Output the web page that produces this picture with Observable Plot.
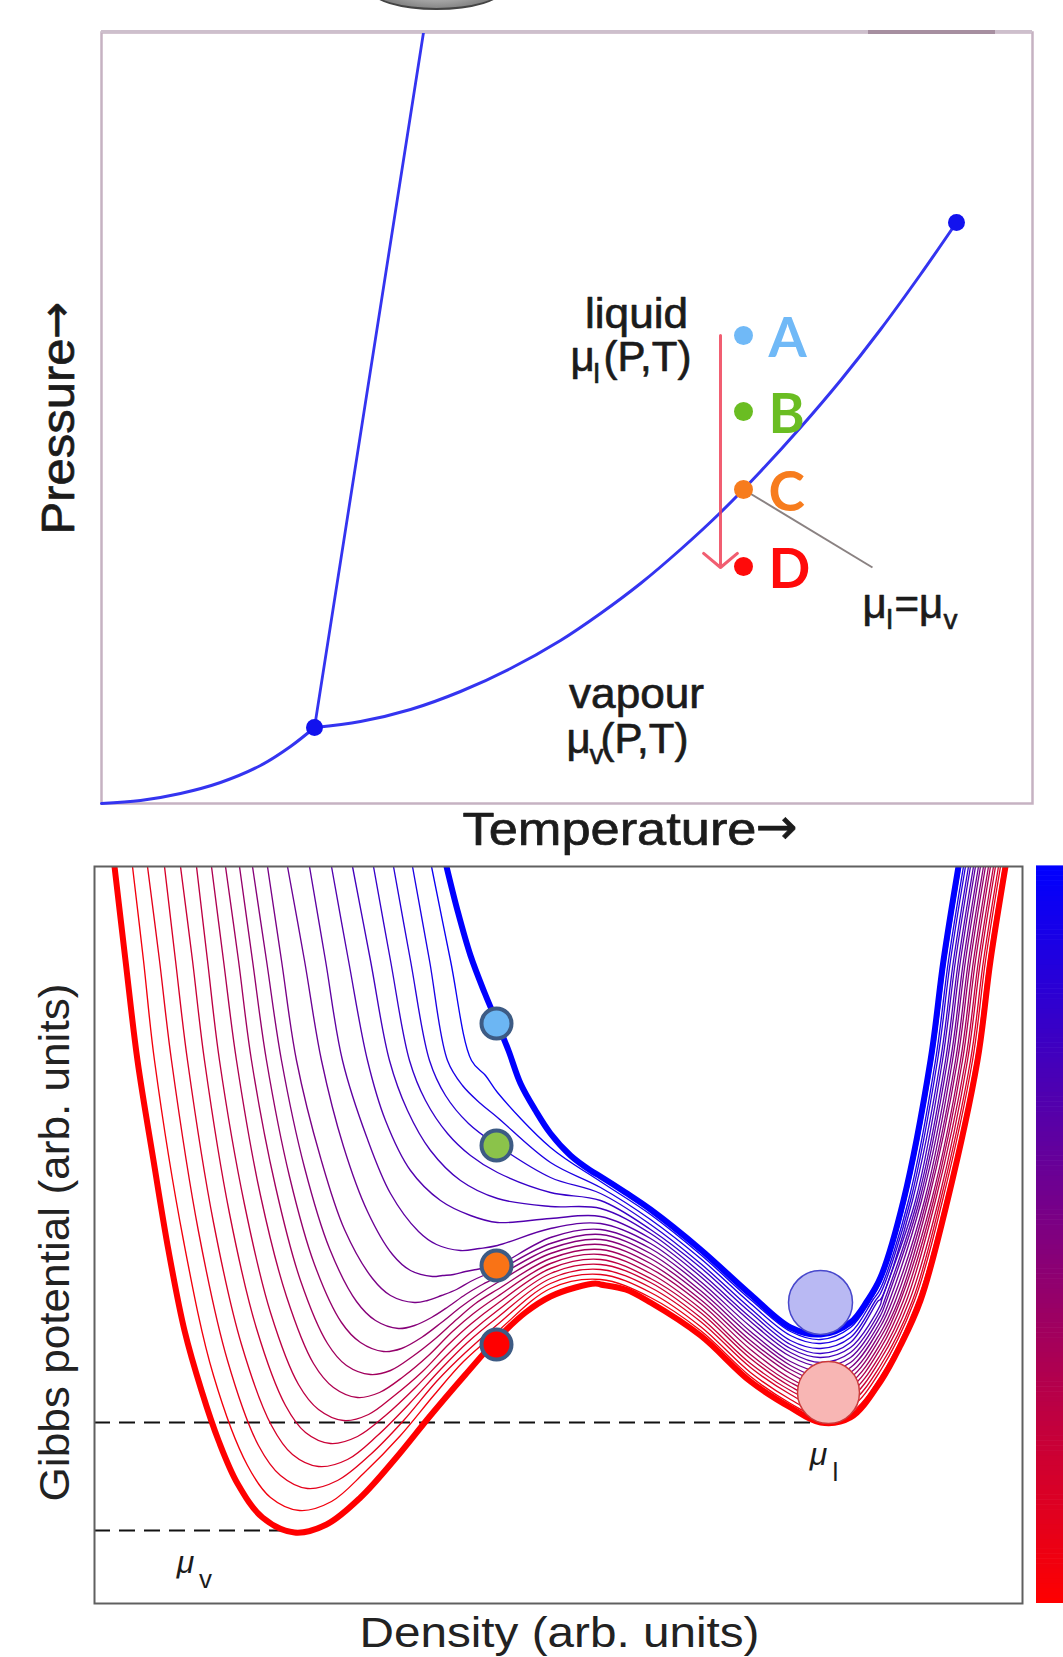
<!DOCTYPE html>
<html><head><meta charset="utf-8">
<script src="https://cdn.jsdelivr.net/npm/d3@7"></script>
<script src="https://cdn.jsdelivr.net/npm/@observablehq/plot@0.6"></script>
<style>
body{margin:0;background:#fff;}
#page{position:relative;width:1063px;height:1657px;overflow:hidden;background:#fff;font-family:"Liberation Sans",Arial,sans-serif;}
#top{position:absolute;left:0;top:0;}
#bottom{position:absolute;left:0;top:858px;}
#cap{position:absolute;left:370px;top:-31px;width:129px;height:37px;border-radius:50%;background:radial-gradient(ellipse at 50% 25%,#e6e6e6 0%,#a0a0a0 55%,#5a5a5a 100%);border:2px solid #444;}
#band{position:absolute;left:101px;top:30px;width:931px;height:3px;background:#cdbfcc;}
#band2{position:absolute;left:868px;top:30px;width:127px;height:4px;background:#a68fa0;}
</style></head>
<body><div id="page"><div id="top"></div><div id="bottom"></div><div id="cap"></div><div id="band"></div><div id="band2"></div></div>
<script>
// ================= TOP PANEL: P–T phase diagram (arb. units) =================
const sublimationT = [1, 40, 80, 120, 160, 190, 214];
const sublimationP = [97, 100, 107, 118, 135, 154, 173];
const vaporisationT = [214, 260, 310, 360, 410, 460, 500, 540, 580, 620, 660, 700, 740, 780, 820, 856];
const vaporisationP = [173, 179, 191, 209, 232, 260, 287, 317, 351, 388, 429, 473, 520, 571, 626, 678];
const meltingT = [214, 323];
const meltingP = [173, 868];
const specialT = [214, 856];   // triple point, critical point
const specialP = [173, 678];
const stateNames = ["A", "B", "C", "D"];
const stateT = [643, 643, 643, 643];
const stateP = [565, 489, 411, 334];
const statePalette = ["#70b9f7", "#6abd22", "#f77c1d", "#ff0a0a"];

// ================= BOTTOM PANEL: Gibbs potential vs density =================
const curveIds = [0,1,2,3,4,5,6,7,8,9,10,11,12,13,14,15,16,17,18,19]; // 0 = lowest pressure (D), 19 = highest (A)
// left (vapour-side) branches: [density, gibbs] pairs read per curve
const vapourSideBranches = [
  [[14,834],[25,740],[37,640],[53,540],[68,450],[84,370],[101,310],[118,260],[137,217],[162,183],[194,168],[226,176],[260,203],[295,242],[330,285],[365,326],[425,388],[475,413],[495,417],[525,411],[800,355]],
  [[32,834],[43,740],[54,640],[83,460],[113,325],[147,235],[170,203],[199,190],[231,199],[264,228],[300,265],[334,306],[363,339]],
  [[47,834],[59,740],[71,640],[98,469],[127,340],[158,255],[180,225],[207,212],[237,220],[270,246],[304,281],[336,319],[365,348]],
  [[64,834],[75,740],[87,640],[113,478],[141,356],[171,275],[192,246],[218,234],[247,241],[277,265],[309,297],[340,331],[367,358]],
  [[80,834],[92,740],[104,640],[129,487],[156,372],[185,295],[205,268],[230,257],[257,264],[285,285],[315,313],[344,343],[369,367]],
  [[96,834],[107,740],[119,640],[144,496],[170,388],[198,316],[218,291],[243,280],[268,286],[294,305],[322,329],[348,356],[371,377]],
  [[111,834],[123,740],[136,640],[160,505],[186,404],[213,337],[233,313],[257,303],[279,308],[303,324],[328,345],[352,369],[373,387]],
  [[125,834],[138,740],[151,640],[175,514],[200,420],[227,357],[246,335],[270,326],[290,330],[312,344],[335,362],[356,381],[375,397]],
  [[139,834],[152,740],[166,640],[189,524],[214,436],[241,378],[260,358],[283,349],[301,352],[321,363],[341,378],[361,394],[378,406]],
  [[152,834],[166,740],[181,640],[204,533],[229,452],[256,399],[275,380],[298,372],[314,375],[331,383],[348,394],[365,406],[380,415]],
  [[167,834],[181,740],[196,640],[220,543],[244,471],[272,422],[290,405],[314,398],[327,400],[341,405],[356,411],[370,419],[383,425]],
  [[187,834],[204,740],[221,640],[243,554],[267,489],[292,446],[310,430],[332,424],[342,425],[353,426],[365,429],[376,431],[386,433]],
  [[209,834],[225,740],[242,640],[266,564],[290,507],[318,469],[336,456],[360,450],[379,452]],
  [[231,834],[248,740],[267,640],[285,580],[310,530],[340,500],[370,485]],
  [[252,834],[270,740],[289,640],[307,590],[330,550],[360,520]],
  [[273,834],[290,740],[309,640],[325,600],[347,567],[370,545]],
  [[293,834],[310,740],[329,640],[345,605],[368,577]],
  [[312,834],[329,740],[347,640],[362,615],[380,597]],
  [[331,834],[350,740],[371,640],[385,625]],
  [[346,834],[357,790],[370,745],[384,708],[408,650],[420,617],[435,590],[470,545],[490,530],[525,508]]
];
// Gibbs value of every curve (index = curve id) at fixed densities
const densityColumns = [397, 450, 500, 550, 600, 650, 690, 720, 750, 780];
const gibbsAt397 = [362,369,376,383,390,397,404,411,418,424,430,435,455,478,502,528,555,583,608,677];
const gibbsAt450 = [404,412,417,422,427,432,437,442,447,452,457,463,472,482,494,508,523,538,553,567];
const gibbsAt500 = [416,421,426,431,436,441,446,451,456,461,466,471,477,484,492,500,507,513,519,524];
const gibbsAt550 = [398,403,408,413,418,422,427,432,437,442,447,452,457,462,467,471,476,481,486,491];
const gibbsAt600 = [365,370,374,379,383,388,392,397,401,406,410,415,419,424,428,433,437,442,446,451];
const gibbsAt650 = [319,324,328,333,337,342,346,351,356,360,365,369,374,379,383,388,392,397,401,406];
const gibbsAt690 = [293,297,301,306,310,314,318,322,327,331,335,339,344,348,352,356,360,365,369,373];
const gibbsAt720 = [278,283,287,292,297,301,306,310,315,320,324,329,334,338,343,347,352,357,361,366];
const gibbsAt750 = [283,288,293,298,303,308,313,318,323,328,333,338,343,348,353,358,363,368,373,378];
const gibbsAt780 = [319,324,330,335,341,346,352,357,363,368,374,379,385,390,396,401,407,412,418,423];
// Density of every curve on the liquid-side wall at fixed Gibbs values
const gibbsRows = [400, 500, 640, 740, 834];
const densityAt400 = [820,817,814,812,809,806,803,800,798,795,792,789,786,784,781,778,775,772,770,767];
const densityAt500 = [847,845,842,840,838,835,833,831,828,826,824,821,819,817,815,812,810,808,805,803];
const densityAt640 = [877,875,872,870,867,865,862,860,857,855,852,850,847,845,842,840,837,835,832,830];
const densityAt740 = [890,888,885,883,880,878,875,873,870,868,865,863,860,858,855,853,850,848,845,843];
const densityAt834 = [905,903,900,898,895,893,890,888,885,883,880,878,875,873,870,868,865,863,860,858];

const muLevelGibbs = [278, 170];     // mu_l, mu_v
const muLevelDensity = [724, 185];   // where each dashed level meets its minimum
const ballDensity = [720, 728];      // liquid-well balls (high P, low P)
const ballGibbs = [398, 308];
const stateDensity = [396, 396, 396, 396];
const stateGibbs = [677, 555, 435, 356];
const statePaletteBottom = ["#6cb6f3", "#8bc34a", "#f97316", "#ff0000"];

// ---------- build tables ----------
const gibbsCols = [gibbsAt397, gibbsAt450, gibbsAt500, gibbsAt550, gibbsAt600, gibbsAt650, gibbsAt690, gibbsAt720, gibbsAt750, gibbsAt780];
const densityRows = [densityAt400, densityAt500, densityAt640, densityAt740, densityAt834];
const curveRows = [];
curveIds.forEach(i => {
  const pts = vapourSideBranches[i].map(p => p.slice());
  densityColumns.forEach((d, k) => pts.push([d, gibbsCols[k][i]]));
  gibbsRows.forEach((g, k) => pts.push([densityRows[k][i], g]));
  pts.sort((a, b) => a[0] - b[0]);
  pts.forEach(([d, g]) => curveRows.push({id: i, level: i, d, g}));
});
const thin = curveRows.filter(r => r.id !== 0 && r.id !== 19);
const thickRed = curveRows.filter(r => r.id === 0);
const thickBlue = curveRows.filter(r => r.id === 19);

const toXY = (xs, ys) => xs.map((x, k) => ({x, y: ys[k]}));
const FONT = "Liberation Sans, Arial, DejaVu Sans, sans-serif";
const label = (x, y, s, o = {}) => Plot.text([{x, y, s}], {x: "x", y: "y", text: "s", fontFamily: FONT, fill: "#1b1b1b", ...o});
const bold = {stroke: "#1b1b1b", strokeWidth: 0.7};
const ARROW = {fontFamily: "DejaVu Sans, sans-serif"};

// ================= TOP CHART =================
const topChart = Plot.plot({
  width: 1063, height: 858,
  marginLeft: 101, marginRight: 31, marginTop: 32, marginBottom: 55,
  x: {domain: [1, 932], axis: null},
  y: {domain: [97, 868], axis: null},
  style: {background: "transparent", overflow: "visible"},
  marks: [
    Plot.frame({stroke: "#c6b2c2", strokeWidth: 2.5}),
    Plot.line(toXY(sublimationT, sublimationP), {x: "x", y: "y", stroke: "#3434f0", strokeWidth: 3, curve: "catmull-rom"}),
    Plot.line(toXY(vaporisationT, vaporisationP), {x: "x", y: "y", stroke: "#3434f0", strokeWidth: 3, curve: "catmull-rom"}),
    Plot.line(toXY(meltingT, meltingP), {x: "x", y: "y", stroke: "#3434f0", strokeWidth: 2.8}),
    Plot.dot(toXY(specialT, specialP), {x: "x", y: "y", r: 8.5, fill: "#1212ee", stroke: "none"}),
    Plot.arrow([{x1: 620, y1: 565, x2: 620, y2: 333}], {x1: "x1", y1: "y1", x2: "x2", y2: "y2", stroke: "#ef4258", strokeOpacity: 0.85, strokeWidth: 3, headAngle: 100, headLength: 11}),
    Plot.link([{x1: 643, y1: 411, x2: 772, y2: 333}], {x1: "x1", y1: "y1", x2: "x2", y2: "y2", stroke: "#8a8282", strokeWidth: 2}),
    ...stateNames.map((n, k) => Plot.dot([{x: stateT[k], y: stateP[k]}], {x: "x", y: "y", r: 9.5, fill: statePalette[k], stroke: "none"})),
    ...stateNames.map((n, k) => label(668, stateP[k] - 4, n, {fill: statePalette[k], fontSize: 55, fontWeight: "bold", fontFamily: "Lato, Liberation Sans, sans-serif", textAnchor: "start"})),
    label(536, 586, "liquid", {fontSize: 42, ...bold}),
    label(470, 543, "μ", {fontSize: 42, textAnchor: "start", ...bold}),
    label(493, 526, "l", {fontSize: 28, textAnchor: "start", ...bold}),
    label(503, 543, "(P,T)", {fontSize: 42, textAnchor: "start", ...bold}),
    label(536, 206, "vapour", {fontSize: 42, ...bold}),
    label(466, 161, "μ", {fontSize: 42, textAnchor: "start", ...bold}),
    label(489, 145, "v", {fontSize: 28, textAnchor: "start", ...bold}),
    label(500, 161, "(P,T)", {fontSize: 42, textAnchor: "start", ...bold}),
    label(762, 296, "μ", {fontSize: 42, textAnchor: "start", ...bold}),
    label(786, 280, "l", {fontSize: 28, textAnchor: "start", ...bold}),
    label(794, 296, "=μ", {fontSize: 42, textAnchor: "start", ...bold}),
    label(843, 280, "v", {fontSize: 28, textAnchor: "start", ...bold}),
    label(509, 71, "Temperature", {fontSize: 47, ...bold}),
    label(655, 73, "→", {fontSize: 50, textAnchor: "start", ...ARROW, ...bold}),
    label(-42, 464, "Pressure", {fontSize: 47, rotate: -90, ...bold}),
    label(-44, 580, "→", {fontSize: 44, rotate: -90, ...ARROW, ...bold})
  ]
});
document.getElementById("top").appendChild(topChart);

// ================= BOTTOM CHART =================
const barLevels = d3.range(0, 150).map(k => ({g1: 97 + k * 737 / 150, g2: 97 + (k + 1) * 737 / 150 + 0.6, level: 19 * (k + 0.5) / 150}));
const bottomChart = Plot.plot({
  width: 1063, height: 799,
  marginLeft: 94, marginRight: 41, marginTop: 8, marginBottom: 54,
  x: {domain: [-6, 922], axis: null},
  y: {domain: [97, 834], axis: null},
  color: {type: "linear", domain: [0, 19], range: ["#ff0000", "#0000ff"], interpolate: "rgb"},
  style: {background: "transparent", overflow: "visible"},
  marks: [
    Plot.rect(barLevels, {x1: 936, x2: 980, y1: "g1", y2: "g2", fill: "level"}),
    Plot.ruleY(muLevelGibbs.map((g, k) => ({g, d: muLevelDensity[k]})), {y: "g", x1: -6, x2: "d", stroke: "#111", strokeWidth: 2, strokeDasharray: "16,9"}),
    Plot.line(thin, {x: "d", y: "g", z: "id", stroke: "level", strokeWidth: 1.35, curve: "catmull-rom", clip: true}),
    Plot.line(thickBlue, {x: "d", y: "g", stroke: "#0000ff", strokeWidth: 6, curve: "catmull-rom", clip: true}),
    Plot.line(thickRed, {x: "d", y: "g", stroke: "#ff0000", strokeWidth: 6, curve: "catmull-rom", clip: true}),
    Plot.frame({stroke: "#606060", strokeWidth: 2}),
    Plot.dot([{d: ballDensity[0], g: ballGibbs[0]}], {x: "d", y: "g", r: 32, fill: "#b9b9f3", stroke: "#4848cc", strokeWidth: 1.5}),
    Plot.dot([{d: ballDensity[1], g: ballGibbs[1]}], {x: "d", y: "g", r: 31, fill: "#f8b6b4", stroke: "#cc3a3a", strokeWidth: 1.5}),
    ...stateDensity.map((d, k) => Plot.dot([{d, g: stateGibbs[k]}], {x: "d", y: "g", r: 15, fill: statePaletteBottom[k], stroke: "#3d5b84", strokeWidth: 4})),
    label(718, 246, "μ", {fontSize: 32, fontStyle: "italic"}),
    label(735, 228, "l", {fontSize: 26}),
    label(85, 138, "μ", {fontSize: 32, fontStyle: "italic"}),
    label(105, 121, "v", {fontSize: 26}),
    label(459, 67, "Density (arb. units)", {fontSize: 42, fill: "#222"}),
    label(-45, 458, "Gibbs potential (arb. units)", {fontSize: 43, fill: "#222", rotate: -90})
  ]
});
document.getElementById("bottom").appendChild(bottomChart);

// stretch a few titles horizontally to the widths seen in the reference
const stretch = {"Temperature": 294, "Pressure": 196, "liquid": 103, "vapour": 135, "Density (arb. units)": 400, "Gibbs potential (arb. units)": 518};
d3.selectAll("#page svg text").each(function () {
  const w = stretch[this.textContent];
  if (w) d3.select(this).attr("textLength", w).attr("lengthAdjust", "spacingAndGlyphs");
});
</script>
</body></html>
